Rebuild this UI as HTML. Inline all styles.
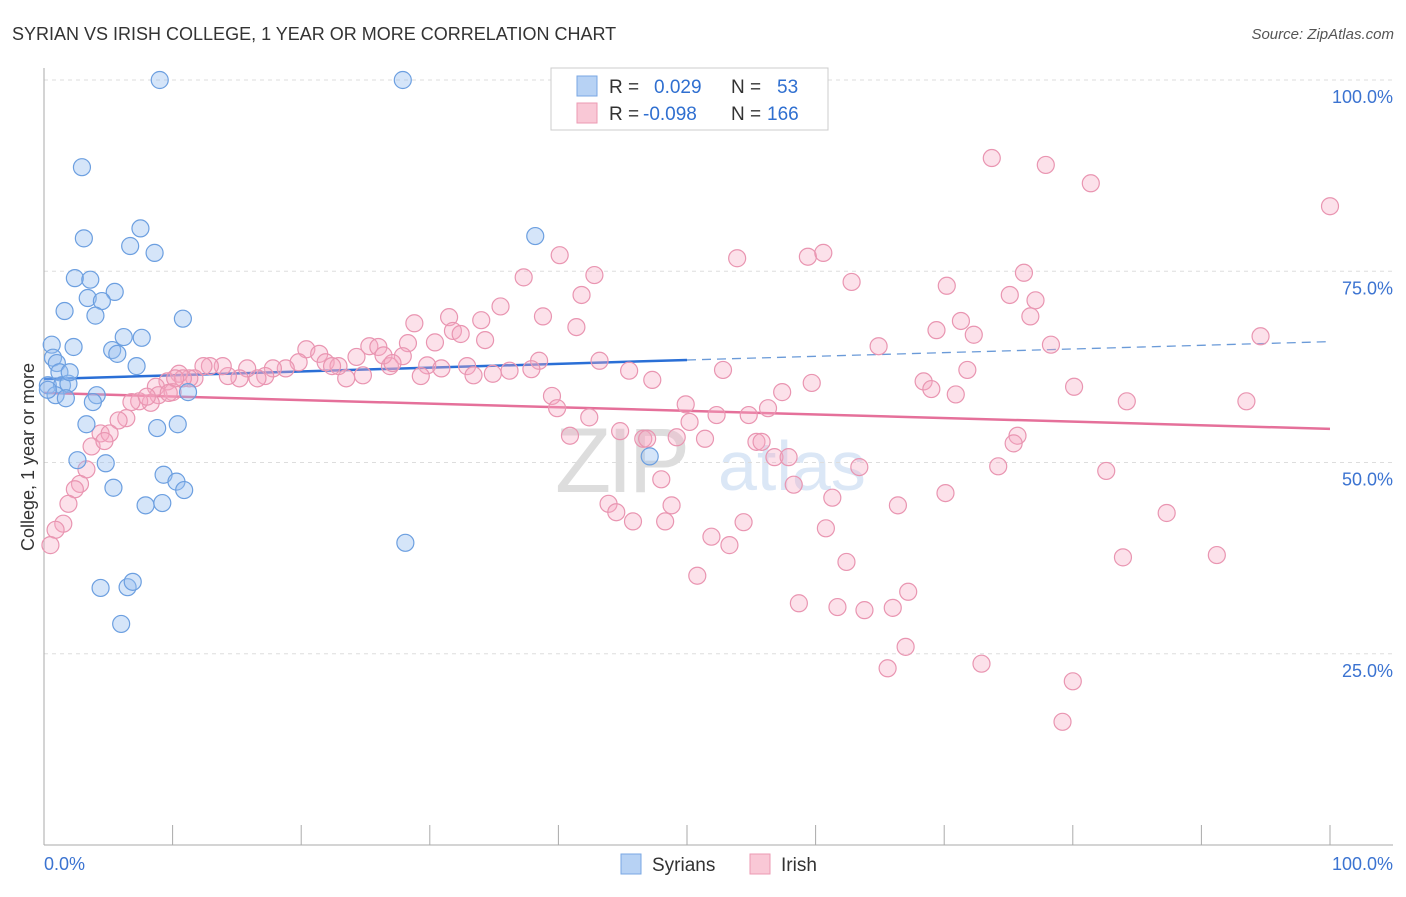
<!DOCTYPE html>
<html><head><meta charset="utf-8">
<style>
body{margin:0;background:#fff;font-family:"Liberation Sans",sans-serif;}
svg text{font-family:"Liberation Sans",sans-serif;}
</style></head>
<body>
<svg id="chart" width="1406" height="892" viewBox="0 0 1406 892" xmlns="http://www.w3.org/2000/svg">
<text x="12" y="40" font-size="18" fill="#333">SYRIAN VS IRISH COLLEGE, 1 YEAR OR MORE CORRELATION CHART</text>
<text x="1394" y="39" font-size="15" fill="#555" text-anchor="end" font-style="italic">Source: ZipAtlas.com</text>
<g>
<text x="555" y="492" font-size="92" font-family="Liberation Serif,serif" fill="#ddd" letter-spacing="-4">ZIP</text>
<text x="718" y="490" font-size="70" fill="#dbe7f6">atlas</text>
</g>
<g id="grid"></g>
<g id="axes"></g>
<g id="trend"></g>
<g id="dots"></g>
<text transform="translate(34,457) rotate(-90)" font-size="18" fill="#333" text-anchor="middle">College, 1 year or more</text>
<g>
<rect x="551" y="68" width="277" height="62" fill="#fff" stroke="#ccc"/>
<rect x="577" y="76" width="20" height="20" fill="#b7d2f4" stroke="#7aa7e3"/>
<rect x="577" y="103" width="20" height="20" fill="#f9c8d6" stroke="#ec9ab3"/>
<text x="609" y="93" font-size="19" fill="#333">R =</text>
<text x="654" y="93" font-size="19" fill="#2f6fd0">0.029</text>
<text x="731" y="93" font-size="19" fill="#333">N =</text>
<text x="777" y="93" font-size="19" fill="#2f6fd0">53</text>
<text x="609" y="120" font-size="19" fill="#333">R =</text>
<text x="643" y="120" font-size="19" fill="#2f6fd0">-0.098</text>
<text x="731" y="120" font-size="19" fill="#333">N =</text>
<text x="767" y="120" font-size="19" fill="#2f6fd0">166</text>
</g>
<g>
<rect x="621" y="854" width="20" height="20" fill="#b7d2f4" stroke="#7aa7e3"/>
<text x="652" y="871" font-size="19" fill="#333">Syrians</text>
<rect x="750" y="854" width="20" height="20" fill="#f9c8d6" stroke="#ec9ab3"/>
<text x="781" y="871" font-size="19" fill="#333">Irish</text>
</g>
</svg>
<script>
const yTicks = [25, 50, 75, 100];
const yTickLabels = ["25.0%", "50.0%", "75.0%", "100.0%"];
const xTickLabels = ["0.0%", "100.0%"];
const syriansX = [9.0,27.9,2.95,3.1,7.5,6.7,8.6,2.4,3.6,5.5,3.4,4.5,1.6,4.0,10.8,6.2,7.6,0.6,2.3,5.3,5.7,0.7,1.0,7.2,1.2,0.3,1.4,1.9,0.9,4.1,3.8,1.7,11.2,2.0,3.3,8.8,10.4,2.6,4.8,9.3,10.3,10.9,5.4,7.9,9.2,47.1,28.1,38.2,4.4,6.5,6.9,6.0,0.3];
const syriansY = [100,100,88.6,79.3,80.6,78.3,77.4,74.1,73.9,72.3,71.5,71.1,69.8,69.2,68.8,66.4,66.3,65.4,65.1,64.7,64.2,63.7,63.0,62.6,61.8,60.1,60.1,60.3,58.8,58.8,57.9,58.4,59.2,61.8,55.0,54.5,55.0,50.3,49.9,48.4,47.5,46.4,46.7,44.4,44.7,50.8,39.5,79.6,33.6,33.7,34.4,28.9,59.5];
const irishX = [73.7,77.9,81.4,100,53.9,59.4,60.6,42.8,62.8,70.2,76.2,75.1,77.1,76.7,71.3,69.4,72.3,64.9,78.3,94.6,43.2,45.5,47.3,52.8,71.8,68.4,69.0,70.9,80.1,59.7,57.4,56.3,49.9,52.3,54.8,50.2,84.2,93.5,44.8,46.6,46.9,49.2,51.4,55.4,55.8,56.8,57.9,75.7,75.4,63.4,74.2,82.6,48.0,58.3,43.9,44.5,45.8,48.3,48.8,54.4,61.3,66.4,70.1,60.8,51.9,53.3,62.4,87.3,83.9,91.2,50.8,58.7,61.7,63.8,66.0,67.2,67.0,65.6,72.9,80.0,79.2,
40.1,37.3,41.8,35.5,38.8,41.4,28.8,31.5,34.0,31.8,32.4,34.3,30.4,28.3,20.4,25.3,26.0,21.4,24.3,27.9,38.5,32.9,29.8,37.9,36.2,34.9,33.4,30.9,29.3,26.9,26.4,27.1,24.8,23.5,21.9,22.9,22.4,19.8,18.8,17.8,17.2,16.6,15.8,15.2,14.3,13.9,12.9,12.4,11.7,11.3,10.5,9.6,8.7,8.9,10.0,10.8,10.2,9.7,8.3,7.4,6.8,8.0,6.4,5.8,4.4,5.1,3.7,4.7,3.3,2.8,2.4,1.9,1.5,0.9,0.5,39.5,39.9,42.4,40.9];
const irishY = [89.8,88.9,86.5,83.5,76.7,76.9,77.4,74.5,73.6,73.1,74.8,71.9,71.2,69.1,68.5,67.3,66.7,65.2,65.4,66.5,63.3,62.0,60.8,62.1,62.1,60.6,59.6,58.9,59.9,60.4,59.2,57.1,57.6,56.2,56.2,55.3,58.0,58.0,54.1,53.1,53.1,53.3,53.1,52.7,52.7,50.7,50.7,53.5,52.5,49.4,49.5,48.9,47.8,47.1,44.6,43.5,42.3,42.3,44.4,42.2,45.4,44.4,46.0,41.4,40.3,39.2,37.0,43.4,37.6,37.9,35.2,31.6,31.1,30.7,31.0,33.1,25.9,23.1,23.7,21.4,16.1,
77.1,74.2,71.9,70.4,69.1,67.7,68.2,69.0,68.6,67.2,66.8,66.0,65.7,65.6,64.8,65.2,65.1,64.2,63.8,63.9,63.3,62.6,62.7,62.2,62.0,61.6,61.4,62.3,61.3,62.6,64.0,63.0,61.4,61.0,63.1,62.6,62.6,63.1,62.3,62.3,61.3,61.0,62.3,61.0,61.3,62.6,62.6,62.6,61.0,61.0,61.6,60.6,59.9,58.8,59.2,61.0,61.0,59.1,57.8,58.0,57.9,58.6,55.8,55.5,53.8,53.8,52.1,52.8,49.1,47.2,46.5,44.6,42.0,41.2,39.2,58.7,57.1,55.9,53.5];
const syrTrend = [[0,60.9],[50,63.4],[100,65.8]];
const irishTrend = [[0,59.1],[100,54.4]];

const NS = "http://www.w3.org/2000/svg";
const X0 = 44, X1 = 1330, Y0 = 845, Y1 = 80;
function sx(v){ return X0 + (X1 - X0) * v / 100; }
function sy(v){ return Y0 - (Y0 - Y1) * v / 100; }
function mk(tag, attrs, parent){ const e = document.createElementNS(NS, tag); for (const k in attrs) e.setAttribute(k, attrs[k]); parent.appendChild(e); return e; }

const grid = document.getElementById('grid');
yTicks.forEach((t, i) => {
  const l = mk('line', {x1: X0, x2: 1393, y1: sy(t), y2: sy(t), stroke: '#ddd', 'stroke-dasharray': '4,4'}, grid);
  
  
  const tx = mk('text', {x: 1393, y: sy(t) + 23, 'font-size': 18, fill: '#3b73d1', 'text-anchor': 'end'}, grid);
  tx.textContent = yTickLabels[i];
  
  
});
const axes = document.getElementById('axes');
mk('line', {x1: X0, x2: X0, y1: 68, y2: Y0, stroke: '#aaa'}, axes);
mk('line', {x1: X0, x2: 1393, y1: Y0, y2: Y0, stroke: '#aaa'}, axes);
for (let i = 0; i <= 10; i++) {
  const tk = mk('line', {x1: sx(i * 10), x2: sx(i * 10), y1: 825, y2: Y0, stroke: '#aaa'}, axes);
  
  
}
const xl0 = mk('text', {x: 44, y: 870, 'font-size': 18, fill: '#3b73d1'}, axes);
xl0.textContent = xTickLabels[0];


const xl1 = mk('text', {x: 1393, y: 870, 'font-size': 18, fill: '#3b73d1', 'text-anchor': 'end'}, axes);
xl1.textContent = xTickLabels[1];



const dots = document.getElementById('dots');
irishX.forEach((x, i) => {
  const c = mk('circle', {cx: sx(x), cy: sy(irishY[i]), r: 8.5, fill: 'rgba(246,170,195,0.35)', stroke: '#e995b1', 'stroke-width': 1.2}, dots);
  
  
});
syriansX.forEach((x, i) => {
  const c = mk('circle', {cx: sx(x), cy: sy(syriansY[i]), r: 8.5, fill: 'rgba(150,190,240,0.4)', stroke: '#6c9fe0', 'stroke-width': 1.2}, dots);
  
  
});

const trend = document.getElementById('trend');
const t1 = mk('line', {x1: sx(syrTrend[0][0]), y1: sy(syrTrend[0][1]), x2: sx(syrTrend[1][0]), y2: sy(syrTrend[1][1]), stroke: '#2a6fd6', 'stroke-width': 2.5}, trend);


const t2 = mk('line', {x1: sx(syrTrend[1][0]), y1: sy(syrTrend[1][1]), x2: sx(syrTrend[2][0]), y2: sy(syrTrend[2][1]), stroke: '#6a9ad8', 'stroke-width': 1.3, 'stroke-dasharray': '9,6'}, trend);


const t3 = mk('line', {x1: sx(irishTrend[0][0]), y1: sy(irishTrend[0][1]), x2: sx(irishTrend[1][0]), y2: sy(irishTrend[1][1]), stroke: '#e5709a', 'stroke-width': 2.5}, trend);


</script>
</body></html>
